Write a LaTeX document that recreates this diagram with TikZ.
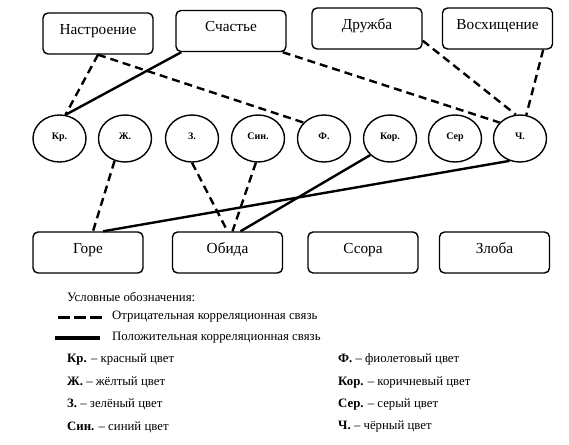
\documentclass[tikz,border=0pt]{standalone}
\usepackage{fontspec}
\setmainfont{Liberation Serif}
\usetikzlibrary{shapes.geometric}

\begin{document}
\begin{tikzpicture}[x=1pt,y=-1pt]
    \tikzstyle{box}=[draw, line width=1.4pt, rounded corners=5pt, minimum width=110pt, minimum height=41pt,
      font=\fontsize{15.3}{17}\selectfont, text height=10pt, text depth=8.5pt]
    \tikzstyle{circ}=[draw, ellipse, line width=1.4pt, minimum width=53pt, minimum height=47pt, inner sep=0pt,
      font=\fontsize{10}{12}\selectfont\bfseries, text height=7pt, text depth=6pt]
    \tikzstyle{neglink}=[line width=2.4pt, dash pattern=on 8pt off 5pt]
    \tikzstyle{poslink}=[line width=2.4pt]
    \tikzstyle{legendtext}=[anchor=west, inner sep=0pt, font=\fontsize{12.8}{14}\selectfont]
    \useasboundingbox (0,0) rectangle (569,444);

      \node[box] (nastr) at (98,33.5) {Настроение};
      \node[box] (sch) at (231,31) {Счастье};
      \node[box] (druzh) at (367,28.5) {Дружба};
      \node[box] (vos) at (497.5,28.5) {Восхищение};

      \node[circ] (kr) at (59.5,138.5) {Кр.};
      \node[circ] (zh) at (125,138.5) {Ж.};
      \node[circ] (z) at (192,138.5) {З.};
      \node[circ] (sin) at (258,138.5) {Син.};
      \node[circ] (f) at (324,138.5) {Ф.};
      \node[circ] (kor) at (390,138.5) {Кор.};
      \node[circ] (ser) at (455,138.5) {Сер};
      \node[circ] (ch) at (520,138.5) {Ч.};

      \node[box] (gore) at (88,252.5) {Горе};
      \node[box] (obida) at (227.5,252.5) {Обида};
      \node[box] (ssora) at (363,252.5) {Ссора};
      \node[box] (zloba) at (494.5,252.5) {Злоба};

      \draw[neglink] (nastr.south) -- (kr.76);
      \draw[neglink] (nastr.south) -- (f.142);
      \draw[poslink] ([xshift=6pt]sch.south west) -- (kr.76);
      \draw[neglink] ([xshift=-4pt]sch.south east) -- (ch.142);
      \draw[neglink] ([yshift=9pt]druzh.south east) -- (ch.100);
      \draw[neglink] ([xshift=-10pt]vos.south east) -- (ch.75);
      \draw[poslink] (ch.-115) -- ([xshift=15pt]gore.north);
      \draw[neglink] (zh.-115) -- ([xshift=5pt]gore.north);
      \draw[neglink] (z.south) -- (obida.north);
      \draw[neglink] (sin.-95) -- ([xshift=5pt]obida.north);
      \draw[poslink] (kor.-140) -- ([xshift=13pt]obida.north);

      \node[legendtext] (title) at (67,297) {Условные обозначения:};
      \node[legendtext] (negtxt) at (112,317) {Отрицательная корреляционная связь};
      \node[legendtext] (postxt) at (112,338) {Положительная корреляционная связь};
      \draw[line width=3pt, dash pattern=on 12pt off 4pt] ([xshift=-10pt]negtxt.west) -- ++(-47,0);
      \draw[line width=3.5pt] ([xshift=-12pt]postxt.west) -- ++(-45,0);

      \node[legendtext] (kr-l) at (67,359) {\textbf{Кр.} – красный цвет};
      \node[legendtext] (zh-l) at (67,382) {\textbf{Ж.} – жёлтый цвет};
      \node[legendtext] (z-l) at (67,404) {\textbf{З.} – зелёный цвет};
      \node[legendtext] (sin-l) at (67,427) {\textbf{Син.} – синий цвет};
      \node[legendtext] (f-l) at (338,359) {\textbf{Ф.} – фиолетовый цвет};
      \node[legendtext] (kor-l) at (338,382) {\textbf{Кор.} – коричневый цвет};
      \node[legendtext] (ser-l) at (338,404) {\textbf{Сер.} – серый цвет};
      \node[legendtext] (ch-l) at (338,426) {\textbf{Ч.} – чёрный цвет};
\end{tikzpicture}
\end{document}
